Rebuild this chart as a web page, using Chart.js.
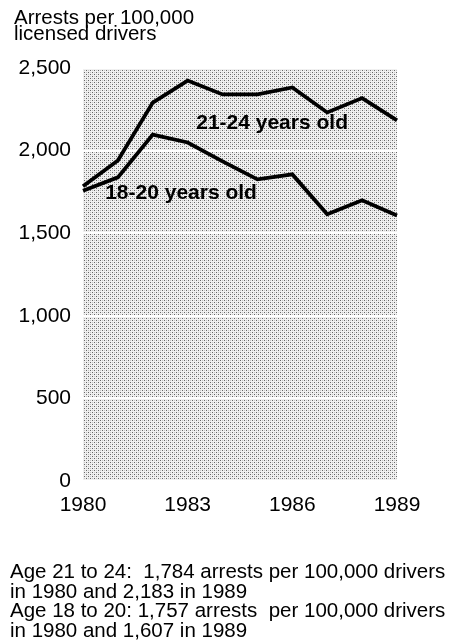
<!DOCTYPE html>
<html>
<head>
<meta charset="utf-8">
<script src="https://cdn.jsdelivr.net/npm/chart.js@4/dist/chart.umd.min.js"></script>
<style>
  body { margin: 0; background: #fff; }
  #wrap { position: relative; width: 450px; height: 643px; }
  #box { position: absolute; left: 0; top: 0; width: 450px; height: 643px; }
  .txt { position: absolute; font-family: 'Liberation Sans', Arial, Helvetica, sans-serif; color: #000; white-space: nowrap; }
  #title { left: 14px; top: 9px; font-size: 20.5px; line-height: 16px; }
  #note { left: 10px; top: 561px; font-size: 20.5px; line-height: 19.7px; }
</style>
</head>
<body>
<div id="wrap">
  <div id="box"><canvas id="canvas1"></canvas></div>
  <div id="title" class="txt">Arrests per 100,000<br>licensed drivers</div>
  <div id="note" class="txt">Age 21 to 24:&nbsp; 1,784 arrests per 100,000 drivers<br>in 1980 and 2,183 in 1989<br>Age 18 to 20: 1,757 arrests&nbsp; per 100,000 drivers<br>in 1980 and 1,607 in 1989</div>
</div>
<script>
var years = ['1980', '1981', '1982', '1983', '1984', '1985', '1986', '1987', '1988', '1989'];
var shownYears = ['1980', '1983', '1986', '1989'];
var age21to24 = [1784, 1940, 2291, 2424, 2340, 2340, 2382, 2231, 2318, 2183];
var age18to20 = [1757, 1838, 2097, 2049, 1935, 1826, 1856, 1615, 1699, 1607];
var seriesNames = ['21-24 years old', '18-20 years old'];
// where each series name sits, in data units (year index, arrests)
var nameAnchors = [[5.42, 2168], [2.81, 1745]];

var fontFam = "'Liberation Sans', Arial, Helvetica, sans-serif";

function dotPattern() {
  var c = document.createElement('canvas');
  c.width = 4; c.height = 4;
  var g = c.getContext('2d');
  g.fillStyle = '#f0f0f0';
  g.fillRect(0, 0, 4, 4);
  g.fillStyle = '#666666';
  g.fillRect(0, 0, 1, 1);
  g.fillRect(2, 2, 1, 1);
  g.fillStyle = '#c4c4c4';
  g.fillRect(2, 0, 1, 1);
  g.fillRect(0, 2, 1, 1);
  return g.createPattern(c, 'repeat');
}

var shade = {
  id: 'shade',
  beforeDraw: function(chart) {
    var a = chart.chartArea, ctx = chart.ctx;
    ctx.save();
    ctx.fillStyle = dotPattern();
    ctx.fillRect(a.left, a.top, a.right - a.left, a.bottom - a.top);
    ctx.restore();
  }
};

var names = {
  id: 'names',
  afterDatasetsDraw: function(chart) {
    var ctx = chart.ctx, xs = chart.scales.x, ys = chart.scales.y;
    ctx.save();
    ctx.font = 'bold 21px ' + fontFam;
    ctx.fillStyle = '#000';
    ctx.textAlign = 'center';
    ctx.textBaseline = 'middle';
    seriesNames.forEach(function(n, i) {
      ctx.fillText(n, xs.getPixelForValue(nameAnchors[i][0]), ys.getPixelForValue(nameAnchors[i][1]));
    });
    ctx.restore();
  }
};

window.onload = function() {
  Chart.defaults.color = '#000';
  Chart.defaults.font.family = fontFam;
  var ctx1 = document.getElementById('canvas1').getContext('2d');
  window.myLine = new Chart(ctx1, {
    type: 'line',
    data: {
      labels: years,
      datasets: [
        { label: seriesNames[0], data: age21to24, borderColor: '#000', borderWidth: 3.8, pointRadius: 0, tension: 0, fill: false },
        { label: seriesNames[1], data: age18to20, borderColor: '#000', borderWidth: 3.8, pointRadius: 0, tension: 0, fill: false }
      ]
    },
    options: {
      responsive: true,
      maintainAspectRatio: false,
      animation: false,
      layout: { padding: { top: 68, right: 53, bottom: 0, left: 0 } },
      plugins: {
        legend: { display: false },
        tooltip: { enabled: false }
      },
      scales: {
        x: {
          grid: { display: false },
          border: { display: false },
          afterFit: function(s) { s.height = 162; },
          ticks: {
            autoSkip: false,
            maxRotation: 0,
            padding: 4,
            font: { size: 21 },
            callback: function(v) {
              var l = years[v];
              return shownYears.indexOf(l) >= 0 ? l : '';
            }
          }
        },
        y: {
          min: 0,
          max: 2500,
          afterFit: function(s) { s.width = 83; },
          border: { display: false },
          grid: { color: '#ffffff', lineWidth: 2, drawTicks: false },
          ticks: {
            stepSize: 500,
            padding: 12,
            font: { size: 21 },
            callback: function(v) { return v.toLocaleString('en-US'); }
          }
        }
      }
    },
    plugins: [shade, names]
  });
};
</script>
</body>
</html>
